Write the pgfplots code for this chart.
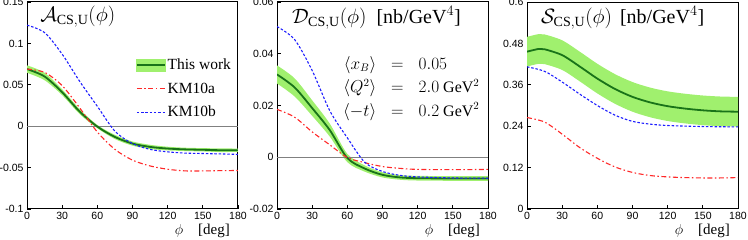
\documentclass[border=0pt]{standalone}
\usepackage{fontspec}
\setmainfont{Liberation Serif}
\setsansfont{Liberation Sans}
\usepackage{pgfplots}
\pgfplotsset{compat=1.18}
\usepgfplotslibrary{fillbetween}

\definecolor{bandc}{RGB}{160,240,110}
\definecolor{dgreen}{RGB}{25,115,25}
\definecolor{kmred}{RGB}{255,40,40}
\definecolor{kmblue}{RGB}{30,30,255}

\tikzset{tfont/.style={font=\fontsize{20}{24}\selectfont}}
\pgfplotsset{
 panel/.style={
  scale only axis, width=211pt, height=207pt,
  xmin=0, xmax=180, xtick={0,30,60,90,120,150,180},
  xticklabels={0,30,60,90,120,150,180},
  tick align=inside, tick pos=left,
  major tick length=4pt,
  axis line style={line width=1pt},
  every tick/.style={black, line width=0.8pt},
  tick label style={font=\sffamily\fontsize{10.5}{12}\selectfont},
  xlabel={$\phi$\quad[deg]},
  xlabel style={at={(axis description cs:1,0)}, anchor=north east, inner sep=0pt, yshift=-15pt, xshift=-8pt, font=\fontsize{15}{18}\selectfont},
  scaled ticks=false,
 },
 bandleg/.style={legend image code/.code={\fill[bandc] (0pt,-5.5pt) rectangle (28pt,5.5pt); \draw[dgreen, line width=1.8pt] (0pt,0pt) -- (28pt,0pt);}},
 kmaleg/.style={legend image code/.code={\draw[kmred, line width=1.1pt, dash pattern=on 5pt off 2.5pt on 1.5pt off 2.5pt] (0pt,0pt) -- (28pt,0pt);}},
 kmbleg/.style={legend image code/.code={\draw[kmblue, line width=1.1pt, dash pattern=on 2.5pt off 1.8pt] (0pt,0pt) -- (28pt,0pt);}},
 cen/.style={dgreen, line width=1.8pt, smooth},
 kma/.style={kmred, line width=1.1pt, smooth, dash pattern=on 5pt off 2.5pt on 1.5pt off 2.5pt},
 kmb/.style={kmblue, line width=1.1pt, smooth, dash pattern=on 2.5pt off 1.8pt},
 zl/.style={gray, line width=0.9pt},
}

\begin{document}
\begin{tikzpicture}

% ---------------- Panel A ----------------
\begin{axis}[panel, at={(27pt,31pt)}, anchor=south west,
  ymin=-0.1, ymax=0.15,
  ytick={-0.1,-0.05,0,0.05,0.1,0.15},
  yticklabels={-0.1,-0.05,0,0.05,0.1,0.15},
  legend style={at={(0.515,0.735)}, anchor=north west, draw=none, fill=none,
    font=\fontsize{15.5}{18}\selectfont, row sep=7.5pt, inner sep=0pt},
  legend cell align=left]
\addplot[name path=aup, draw=none, smooth, forget plot] coordinates {
(0,0.0735) (15,0.0645) (30,0.0445) (45,0.0205) (60,0.0015) (75,-0.0105) (90,-0.0185) (105,-0.0225) (120,-0.0248) (135,-0.026) (150,-0.0265) (165,-0.0268) (180,-0.027)};
\addplot[name path=alo, draw=none, smooth, forget plot] coordinates {
(0,0.0645) (15,0.0555) (30,0.0375) (45,0.0145) (60,-0.0025) (75,-0.0155) (90,-0.0235) (105,-0.0275) (120,-0.0292) (135,-0.030) (150,-0.0305) (165,-0.0312) (180,-0.031)};
\addplot[bandc, draw=none, forget plot] fill between[of=aup and alo];
\addplot[zl, forget plot] coordinates {(0,0) (180,0)};
\addplot[cen, bandleg] coordinates {
(0,0.069) (15,0.060) (30,0.041) (45,0.0175) (60,-0.0005) (75,-0.013) (90,-0.021) (105,-0.025) (120,-0.027) (135,-0.028) (150,-0.0285) (165,-0.029) (180,-0.029)};
\addlegendentry{This work}
\addplot[kma, kmaleg] coordinates {
(0,0.069) (15,0.065) (30,0.049) (45,0.022) (60,-0.007) (75,-0.028) (90,-0.041) (105,-0.048) (120,-0.052) (135,-0.054) (150,-0.054) (165,-0.0537) (180,-0.0535)};
\addlegendentry{KM10a}
\addplot[kmb, kmbleg] coordinates {
(0,0.122) (15,0.113) (30,0.087) (45,0.054) (60,0.024) (75,-0.006) (90,-0.021) (105,-0.028) (120,-0.031) (135,-0.0325) (150,-0.033) (165,-0.0335) (180,-0.034)};
\addlegendentry{KM10b}
\node[anchor=west, inner sep=0pt, tfont] at (rel axis cs:0.062,0.928) {$\mathcal{A}_{\mathrm{CS,U}}(\phi)$};
\end{axis}

% ---------------- Panel D ----------------
\begin{axis}[panel, at={(277pt,31pt)}, anchor=south west,
  ymin=-0.02, ymax=0.06,
  ytick={-0.02,0,0.02,0.04,0.06},
  yticklabels={-0.02,0,0.02,0.04,0.06}]
\addplot[name path=dup, draw=none, smooth] coordinates {
(0,0.0355) (15,0.0305) (30,0.022) (45,0.013) (60,0.0013) (75,-0.0032) (90,-0.0058) (105,-0.0069) (120,-0.0072) (150,-0.0073) (180,-0.0073)};
\addplot[name path=dlo, draw=none, smooth] coordinates {
(0,0.0285) (15,0.0235) (30,0.016) (45,0.008) (60,-0.0019) (75,-0.0056) (90,-0.0078) (105,-0.0087) (120,-0.0090) (150,-0.0091) (180,-0.0091)};
\addplot[bandc, draw=none] fill between[of=dup and dlo];
\addplot[zl] coordinates {(0,0) (180,0)};
\addplot[cen] coordinates {
(0,0.032) (15,0.027) (30,0.019) (45,0.0105) (60,-0.0003) (75,-0.0044) (90,-0.0068) (105,-0.0078) (120,-0.0081) (150,-0.0082) (180,-0.0082)};
\addplot[kma] coordinates {
(0,0.0185) (15,0.0155) (30,0.0098) (45,0.0048) (60,-0.0001) (75,-0.0021) (90,-0.0036) (105,-0.0043) (120,-0.0047) (150,-0.0048) (180,-0.0047)};
\addplot[kmb] coordinates {
(0,0.0505) (15,0.0455) (30,0.0335) (45,0.018) (60,0.0075) (75,-0.002) (90,-0.0055) (105,-0.007) (120,-0.0076) (150,-0.0080) (180,-0.0081)};
\node[anchor=west, inner sep=0pt, tfont] at (rel axis cs:0.071,0.923) {$\mathcal{D}_{\mathrm{CS,U}}(\phi)$\hspace{10pt}[nb/GeV$^4$]};
\node[anchor=north west, inner sep=0pt, font=\fontsize{16}{19.2}\selectfont] at (rel axis cs:0.313,0.755)
 {\renewcommand{\arraystretch}{1.22}$\begin{array}{@{}r@{\hspace{15pt}}c@{\hspace{15pt}}l@{}}
 \langle x_B\rangle & = & 0.05\\
 \langle Q^2\rangle & = & 2.0\ \mathrm{GeV}^2\\
 \langle -t\rangle & = & 0.2\ \mathrm{GeV}^2
 \end{array}$};
\end{axis}

% ---------------- Panel S ----------------
\begin{axis}[panel, at={(527pt,31pt)}, anchor=south west,
  ymin=0, ymax=0.6,
  ytick={0,0.12,0.24,0.36,0.48,0.6},
  yticklabels={0,0.12,0.24,0.36,0.48,0.6}]
\addplot[name path=sup, draw=none, smooth] coordinates {
(0,0.499) (10,0.507) (15,0.506) (30,0.489) (45,0.456) (60,0.421) (75,0.391) (90,0.368) (105,0.352) (120,0.341) (135,0.334) (150,0.329) (165,0.326) (180,0.325)};
\addplot[name path=slo, draw=none, smooth] coordinates {
(0,0.413) (10,0.421) (15,0.420) (30,0.403) (45,0.370) (60,0.335) (75,0.305) (90,0.282) (105,0.266) (120,0.255) (135,0.248) (150,0.243) (165,0.240) (180,0.239)};
\addplot[bandc, draw=none] fill between[of=sup and slo];
\addplot[cen] coordinates {
(0,0.456) (10,0.464) (15,0.463) (30,0.446) (45,0.413) (60,0.378) (75,0.348) (90,0.325) (105,0.309) (120,0.298) (135,0.291) (150,0.286) (165,0.283) (180,0.282)};
\addplot[kma] coordinates {
(0,0.265) (15,0.252) (30,0.217) (45,0.178) (60,0.147) (75,0.122) (90,0.106) (105,0.097) (120,0.093) (135,0.091) (150,0.090) (165,0.090) (180,0.091)};
\addplot[kmb] coordinates {
(0,0.412) (15,0.399) (30,0.368) (45,0.333) (60,0.300) (75,0.272) (90,0.254) (105,0.246) (120,0.242) (150,0.239) (180,0.238)};
\node[anchor=west, inner sep=0pt, tfont] at (rel axis cs:0.066,0.923) {$\mathcal{S}_{\mathrm{CS,U}}(\phi)$\hspace{8pt}[nb/GeV$^4$]};
\end{axis}
\pgfresetboundingbox
\path[use as bounding box] (0pt,0pt) rectangle (748pt,240pt);
\end{tikzpicture}
\end{document}
